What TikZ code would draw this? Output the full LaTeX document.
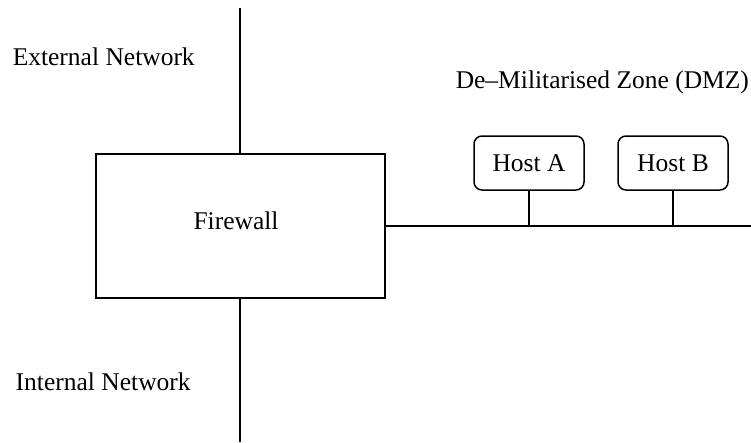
\documentclass[tikz,border=0pt]{standalone}
\usepackage{fontspec}
\setmainfont{Liberation Serif}
\begin{document}
\begin{tikzpicture}[x=1pt,y=-1pt,
  line width=1.5pt,
  lbl/.style={inner sep=0pt,font=\fontsize{25.5}{30}\selectfont},
  fwbox/.style={draw,rectangle,minimum width=289pt,minimum height=144pt,inner sep=0pt,font=\fontsize{25.5}{30}\selectfont},
  hostbox/.style={draw,rectangle,rounded corners=8pt,minimum width=110pt,minimum height=54pt,inner sep=0pt,font=\fontsize{25.5}{30}\selectfont}]
  \useasboundingbox (0,0) rectangle (751,442);
  % firewall and its links
  \node[fwbox] (fw) at (240.5,226) {};
  \node[lbl,anchor=base] (fwlbl) at (236,229) {Firewall};
  \coordinate (extTop) at (240,8);
  \coordinate (intBot) at (240,442);
  \coordinate (busEnd) at (751,226);
  \draw (extTop) -- (extTop |- fw.north);
  \draw (intBot) -- (intBot |- fw.south);
  \draw (fw.east) -- (busEnd);
  % DMZ hosts
  \node[hostbox] (hA) at (529,163) {Host A};
  \node[hostbox] (hB) at (673,163) {Host B};
  \draw (hA.south) -- (hA.south |- busEnd);
  \draw (hB.south) -- (hB.south |- busEnd);
  % zone labels
  \node[lbl,anchor=base west] (ext) at (12,65) {External Network};
  \node[lbl,anchor=base west] (int) at (15,390) {Internal Network};
  \node[lbl,anchor=base west] (dmz) at (455,88) {De–Militarised Zone (DMZ)};
\end{tikzpicture}
\end{document}
